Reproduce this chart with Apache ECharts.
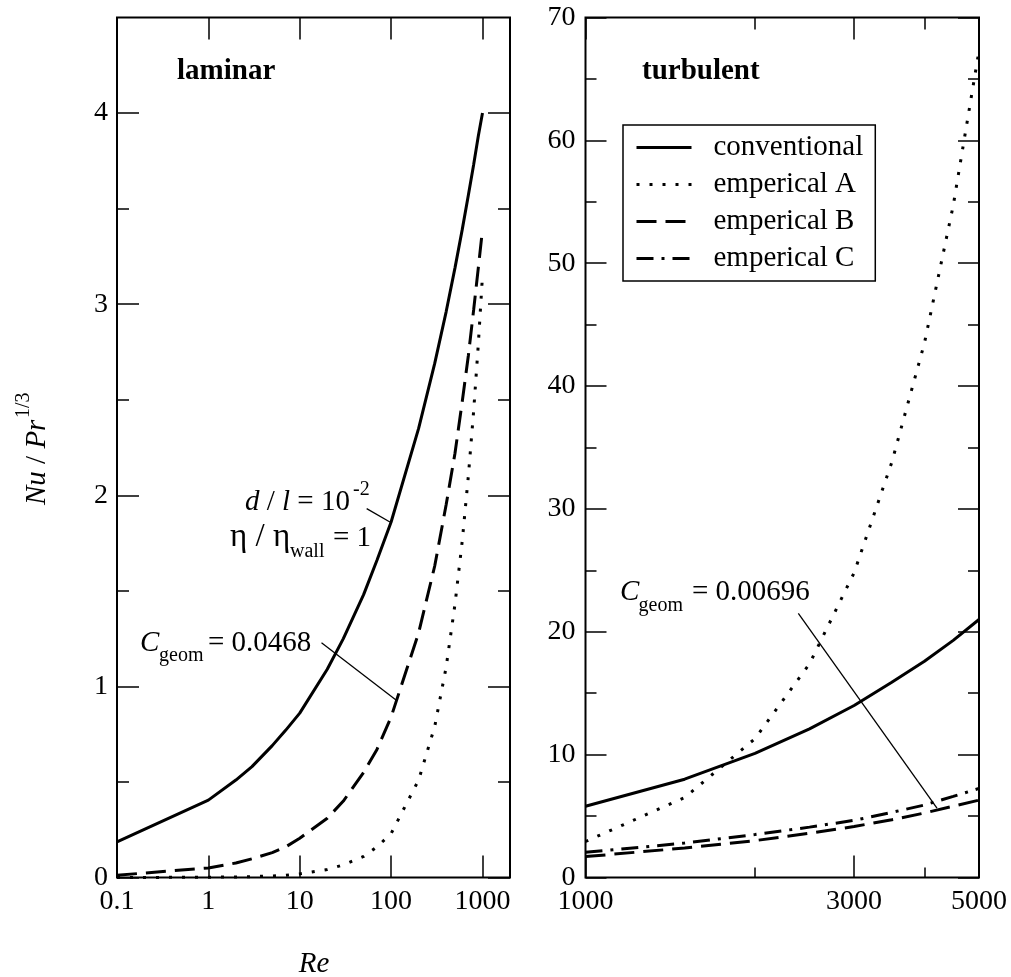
<!DOCTYPE html>
<html>
<head>
<meta charset="utf-8">
<script src="https://cdn.jsdelivr.net/npm/echarts@6/dist/echarts.min.js"></script>
<style>html,body{margin:0;padding:0;background:#fff}#c{width:1011px;height:977px}</style>
</head>
<body>
<div id="c"></div>
<script>
// ---------- data ----------
const laminarRe = [0.1, 1, 2, 3, 5, 7, 10, 20, 30, 50, 70, 100, 200, 300, 400, 500, 600, 700, 800, 900, 1000];
const laminarConventional = [0.186, 0.405, 0.51, 0.58, 0.69, 0.77, 0.86, 1.09, 1.25, 1.48, 1.66, 1.86, 2.35, 2.69, 2.96, 3.19, 3.39, 3.57, 3.73, 3.88, 4.0];
const laminarEmpericalA = [0.0001, 0.0013, 0.003, 0.0047, 0.008, 0.012, 0.019, 0.042, 0.066, 0.11, 0.16, 0.23, 0.51, 0.79, 1.10, 1.43, 1.76, 2.10, 2.44, 2.79, 3.15];
const laminarEmpericalB = [0.012, 0.05, 0.076, 0.098, 0.13, 0.16, 0.205, 0.31, 0.40, 0.55, 0.67, 0.84, 1.28, 1.63, 1.95, 2.22, 2.49, 2.73, 2.97, 3.19, 3.39];

const turbulentRe = [1000, 1500, 2000, 2500, 3000, 3500, 4000, 4500, 5000];
const turbulentConventional = [5.8, 8.0, 10.1, 12.1, 14.0, 15.9, 17.6, 19.3, 21.0];
const turbulentEmpericalA = [2.93, 6.5, 11.3, 17.4, 24.8, 33.8, 43.5, 54.7, 67.3];
const turbulentEmpericalB = [1.7, 2.4, 3.0, 3.6, 4.15, 4.7, 5.25, 5.8, 6.3];
const turbulentEmpericalC = [2.05, 2.8, 3.5, 4.1, 4.65, 5.3, 5.9, 6.6, 7.25];

const laminarXTicks = [0.1, 1, 10, 100, 1000];
const laminarYTicks = [0, 1, 2, 3, 4];
const laminarYMinorTicks = [0.5, 1.5, 2.5, 3.5];
const turbulentXTicks = [1000, 3000, 5000];
const turbulentXMinorTicks = [2000, 4000];

const seriesNames = ['conventional', 'emperical A', 'emperical B', 'emperical C'];

// leader lines of the annotations (data coordinates)
const laminarDlLeader = [[54, 1.93], [97, 1.86]];
const laminarGeomLeader = [[17.3, 1.228], [114, 0.928]];
const turbulentGeomLeader = [[2388, 21.5], [4210, 5.64]];

// ---------- helpers ----------
const FONT = 'Liberation Serif';
const zip = (xs, ys) => xs.map((x, i) => [x, ys[i]]);
const fmt = v => String(+(+v).toPrecision(6));

const STYLES = {
  'conventional': {color: '#000', width: 3, type: 'solid'},
  'emperical A': {color: '#000', width: 3, type: [3, 10], cap: 'butt'},
  'emperical B': {color: '#000', width: 3, type: [20, 9], cap: 'butt'},
  'emperical C': {color: '#000', width: 3, type: [17, 8, 3, 8], cap: 'butt'}
};

const labelStyle = {color: '#000', fontFamily: FONT, fontSize: 28};
const tickLine = {color: '#000', width: 1.5};

function xAxisDef(grid, pos, min, max, ticks, len, labels) {
  return {
    type: 'log', logBase: 10, gridIndex: grid, position: pos, min: min, max: max,
    axisLine: {show: false, onZero: false},
    axisTick: {show: true, inside: true, length: len, customValues: ticks, lineStyle: tickLine},
    minorTick: {show: false},
    axisLabel: labels ? Object.assign({show: true, customValues: ticks, formatter: fmt, margin: 10}, labelStyle) : {show: false},
    splitLine: {show: false}
  };
}
function yAxisDef(grid, pos, min, max, ticks, len, labels, margin) {
  return {
    type: 'value', gridIndex: grid, position: pos, min: min, max: max,
    axisLine: {show: false, onZero: false},
    axisTick: {show: true, inside: true, length: len, customValues: ticks, lineStyle: tickLine},
    minorTick: {show: false},
    axisLabel: labels ? Object.assign({show: true, customValues: ticks, formatter: fmt, margin: margin}, labelStyle) : {show: false},
    splitLine: {show: false}
  };
}

function curve(name, xs, ys, xi, yi) {
  return {
    name: name, type: 'line', xAxisIndex: xi, yAxisIndex: yi,
    data: zip(xs, ys), symbol: 'none', showSymbol: false, smooth: false,
    lineStyle: STYLES[name], itemStyle: {color: '#000', opacity: 0},
    emphasis: {disabled: true}, animation: false, z: 3
  };
}
function leader(name, pts, xi, yi) {
  return {
    name: name, type: 'line', xAxisIndex: xi, yAxisIndex: yi, data: pts,
    symbol: 'none', lineStyle: {color: '#000', width: 1.3}, silent: true,
    emphasis: {disabled: true}, animation: false, z: 2
  };
}

function txt(x, y, text, size, opts) {
  return Object.assign({
    type: 'text', x: x, y: y, silent: true, z: 10,
    style: Object.assign({
      text: text, fill: '#000', fontFamily: FONT, fontSize: size,
      align: 'left', verticalAlign: 'middle'
    }, (opts && opts.style) || {})
  }, (opts && opts.el) || {});
}
const italic = {style: {fontStyle: 'italic'}};

const chart = echarts.init(document.getElementById('c'), null, {renderer: 'canvas'});
chart.setOption({
  animation: false,
  backgroundColor: '#fff',
  grid: [
    {left: 117, top: 17.5, width: 393, height: 860, show: true, borderColor: '#000', borderWidth: 2, backgroundColor: 'transparent'},
    {left: 585.5, top: 17.5, width: 393.5, height: 860, show: true, borderColor: '#000', borderWidth: 2, backgroundColor: 'transparent'}
  ],
  xAxis: [
    xAxisDef(0, 'bottom', 0.1, 2000, laminarXTicks, 22, true),
    xAxisDef(0, 'top', 0.1, 2000, laminarXTicks, 22, false),
    xAxisDef(1, 'bottom', 1000, 5000, turbulentXTicks, 22, true),
    xAxisDef(1, 'bottom', 1000, 5000, turbulentXMinorTicks, 10, false),
    xAxisDef(1, 'top', 1000, 5000, turbulentXTicks, 22, false),
    xAxisDef(1, 'top', 1000, 5000, turbulentXMinorTicks, 12, false)
  ],
  yAxis: [
    yAxisDef(0, 'left', 0, 4.5, laminarYTicks, 22, true, 9),
    yAxisDef(0, 'left', 0, 4.5, laminarYMinorTicks, 12, false),
    yAxisDef(0, 'right', 0, 4.5, laminarYTicks, 22, false),
    yAxisDef(0, 'right', 0, 4.5, laminarYMinorTicks, 12, false),
    {
      type: 'value', gridIndex: 1, position: 'left', min: 0, max: 70, interval: 10,
      axisLine: {show: false, onZero: false},
      axisTick: {show: true, inside: true, length: 21, lineStyle: tickLine},
      minorTick: {show: true, splitNumber: 2, length: 11, lineStyle: tickLine},
      axisLabel: Object.assign({show: true, margin: 10}, labelStyle),
      splitLine: {show: false}
    },
    {
      type: 'value', gridIndex: 1, position: 'right', min: 0, max: 70, interval: 10,
      axisLine: {show: false, onZero: false},
      axisTick: {show: true, inside: true, length: 21, lineStyle: tickLine},
      minorTick: {show: true, splitNumber: 2, length: 11, lineStyle: tickLine},
      axisLabel: {show: false},
      splitLine: {show: false}
    }
  ],
  legend: {
    data: seriesNames.map(n => ({name: n, lineStyle: STYLES[n], itemStyle: {opacity: 0}})),
    orient: 'vertical', left: 623, top: 125,
    itemWidth: 55, itemHeight: 14, itemGap: 8,
    padding: [8, 12, 8, 12],
    borderColor: '#000', borderWidth: 1.5, backgroundColor: '#fff',
    selectedMode: false,
    itemStyle: {opacity: 0},
    textStyle: {color: '#000', fontFamily: FONT, fontSize: 29, lineHeight: 29, padding: [0, 0, 0, 17]}
  },
  series: [
    curve('conventional', laminarRe, laminarConventional, 0, 0),
    curve('emperical A', laminarRe, laminarEmpericalA, 0, 0),
    curve('emperical B', laminarRe, laminarEmpericalB, 0, 0),
    leader('dl-leader', laminarDlLeader, 0, 0),
    leader('geom-leader-laminar', laminarGeomLeader, 0, 0),
    curve('conventional', turbulentRe, turbulentConventional, 2, 4),
    curve('emperical A', turbulentRe, turbulentEmpericalA, 2, 4),
    curve('emperical B', turbulentRe, turbulentEmpericalB, 2, 4),
    curve('emperical C', turbulentRe, turbulentEmpericalC, 2, 4),
    leader('geom-leader-turbulent', turbulentGeomLeader, 2, 4)
  ],
  graphic: [
    txt(177, 72, 'laminar', 29, {style: {fontWeight: 'bold'}}),
    txt(642, 72, 'turbulent', 29, {style: {fontWeight: 'bold'}}),
    // d / l = 10^-2
    txt(245, 502, '{i|d} / {i|l} = 10', 29, {style: {rich: {
      i: {fontFamily: FONT, fontSize: 29, fontStyle: 'italic', fill: '#000'}
    }}}),
    txt(353, 490, '-2', 20),
    // eta / eta_wall = 1
    txt(230, 537, 'η / η', 33),
    txt(290, 552, 'wall', 20),
    txt(333, 538, '= 1', 29),
    // C_geom = 0.0468
    txt(140, 643.5, 'C', 29, italic),
    txt(159, 656, 'geom', 20),
    txt(208, 643.5, '= 0.0468', 29),
    // C_geom = 0.00696
    txt(620, 592, 'C', 29, italic),
    txt(638.5, 605.5, 'geom', 20),
    txt(692, 592, '= 0.00696', 29),
    // axis titles
    txt(314, 964, 'Re', 29, {style: {fontStyle: 'italic', align: 'center'}}),
    txt(37.5, 505, '{i|Nu} / {i|Pr}', 29, {el: {rotation: Math.PI / 2}, style: {rich: {
      i: {fontFamily: FONT, fontSize: 29, fontStyle: 'italic', fill: '#000'}
    }}}),
    txt(23.5, 418, '1/3', 20, {el: {rotation: Math.PI / 2}})
  ]
});
</script>
</body>
</html>
